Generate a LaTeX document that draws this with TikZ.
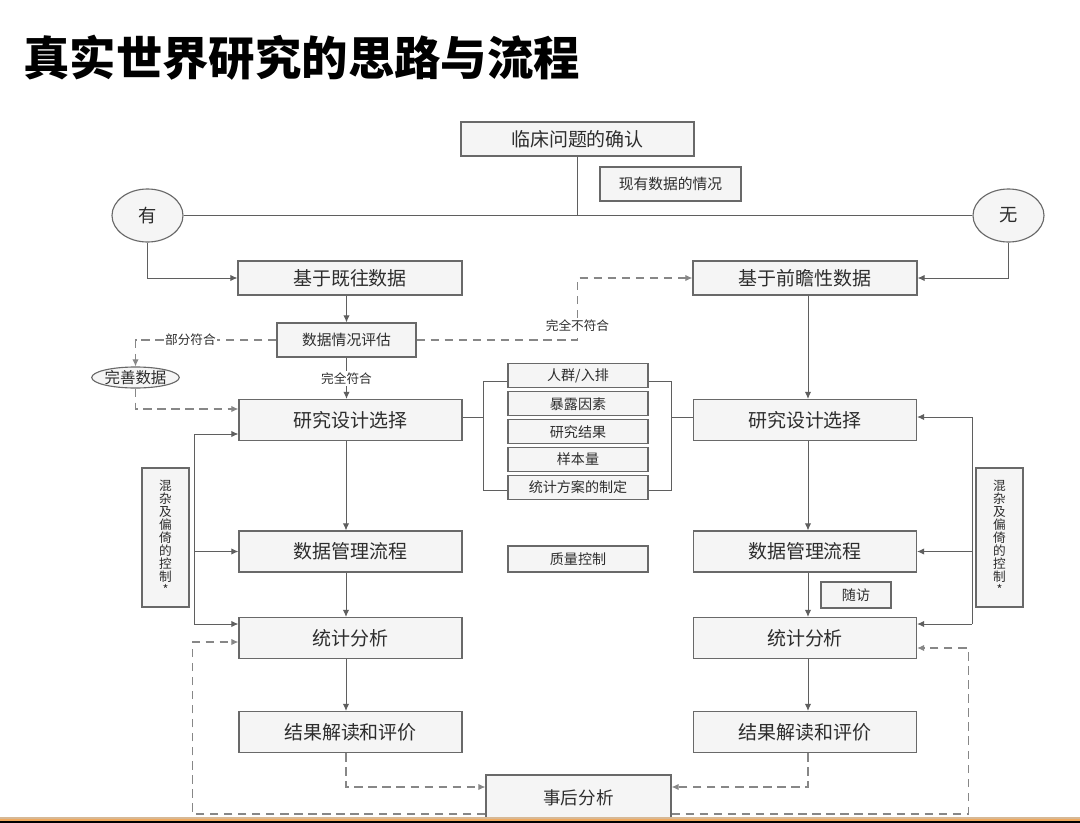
\documentclass[tikz,border=0pt]{standalone}
\usepackage{fontspec}
\setmainfont{Noto Sans CJK SC}
\usetikzlibrary{shapes.geometric,arrows.meta,calc}

\definecolor{boxline}{RGB}{105,105,105}
\definecolor{boxfill}{RGB}{245,245,245}
\definecolor{txt}{RGB}{45,45,45}
\definecolor{linec}{RGB}{95,95,95}
\definecolor{dashc}{RGB}{135,135,135}
\definecolor{stripa}{RGB}{215,185,150}
\definecolor{stripb}{RGB}{238,168,95}

\tikzset{
  box/.style={draw=boxline, fill=boxfill, line width=0.8pt, text=txt, inner sep=0pt,
    font=\fontsize{13.5}{15}\selectfont},
  bigbox/.style={box, minimum width=5.575cm, minimum height=1.025cm},
  smallbox/.style={box, font=\fontsize{10.5}{12}\selectfont},
  itembox/.style={box, minimum width=3.5cm, minimum height=0.6cm, font=\fontsize{10}{11}\selectfont},
  oval/.style={ellipse, draw=boxline, fill=boxfill, line width=0.8pt, text=txt, inner sep=0pt},
  ctrlbox/.style={box, minimum width=1.175cm, minimum height=3.475cm, align=center,
    font=\fontsize{9}{9.2}\selectfont},
  conn/.style={draw=linec, line width=0.7pt},
  arr/.style={-{Latex[length=5pt,width=4.5pt]}},
  dsh/.style={draw=dashc, line width=0.8pt, dash pattern=on 6pt off 4pt},
  lbl/.style={fill=white, text=txt, inner sep=1pt, font=\fontsize{9}{10}\selectfont},
}

\begin{document}
\begin{tikzpicture}[x=0.025cm, y=-0.025cm]
\useasboundingbox (0,0) rectangle (1080,823);
\fill[white] (0,0) rectangle (1080,823);

\node[anchor=west, inner sep=0pt, font=\fontsize{33}{38}\selectfont\bfseries] (title) at (23,58) {真实世界研究的思路与流程};

% top part
\node[box, minimum width=5.825cm, minimum height=0.85cm] (q) at (577.5,139) {临床问题的确认};
\node[smallbox, minimum width=3.525cm, minimum height=0.85cm] (cur) at (670.5,184) {现有数据的情况};
\node[oval, minimum width=1.775cm, minimum height=1.325cm, font=\fontsize{13}{14}\selectfont] (you) at (147.5,215.5) {有};
\node[oval, minimum width=1.775cm, minimum height=1.325cm, font=\fontsize{13}{14}\selectfont] (wu) at (1008.5,215.5) {无};

\node[box, minimum width=5.6cm, minimum height=0.85cm] (past) at (350,278) {基于既往数据};
\node[box, minimum width=5.6cm, minimum height=0.85cm] (pros) at (805,278) {基于前瞻性数据};
\node[smallbox, minimum width=3.475cm, minimum height=0.85cm] (eval) at (346.5,340) {数据情况评估};
\node[oval, minimum width=2.175cm, minimum height=0.525cm, font=\fontsize{11}{12}\selectfont] (perf) at (135.5,377.5) {完善数据};

% two columns
\node[bigbox] (designL) at (350.5,420) {研究设计选择};
\node[bigbox] (mgmtL) at (350.5,551.5) {数据管理流程};
\node[bigbox] (statL) at (350.5,638) {统计分析};
\node[bigbox] (resL) at (350.5,732) {结果解读和评价};

\node[bigbox] (designR) at (805,420) {研究设计选择};
\node[bigbox] (mgmtR) at (805,551.5) {数据管理流程};
\node[bigbox] (statR) at (805,638) {统计分析};
\node[bigbox] (resR) at (805,732) {结果解读和评价};

\node[ctrlbox] (ctrlL) at (165.5,537.5) {混\\杂\\及\\偏\\倚\\的\\控\\制\\*};
\node[ctrlbox] (ctrlR) at (999.5,537.5) {混\\杂\\及\\偏\\倚\\的\\控\\制\\*};

% middle list
\foreach \t [count=\i] in {人群/入排, 暴露因素, 研究结果, 样本量, 统计方案的制定}
  \node[itembox] (i\i) at (578,348+27.9*\i) {\t};
\node[itembox, minimum height=0.65cm] (qc) at (578,559) {质量控制};
\node[itembox, minimum width=1.75cm, minimum height=0.65cm] (fu) at (856,595) {随访};
\node[box, minimum width=4.625cm, minimum height=1.15cm, font=\fontsize{12.5}{14}\selectfont] (post) at (578.5,798) {事后分析};

\coordinate (cL) at (346,0);
\coordinate (cR) at (808,0);

% connectors
\draw[conn] (q.south) -- (q.south |- you.east);
\draw[conn] (you.east) -- (wu.west);
\draw[conn,arr] (you.south) |- (past.west);
\draw[conn,arr] (wu.south) |- (pros.east);
\draw[conn,arr] (eval.north |- past.south) -- (eval.north);
\draw[dsh,arr] (eval.west) -- node[lbl,pos=0.61]{部分符合} (perf.north |- eval.west) -- (perf.north);
\draw[dsh,arr] (perf.south) |- ($(designL.west)+(0,-11)$);
\draw[conn,arr] (eval.south) -- node[lbl]{完全符合} (eval.south |- designL.north);
\draw[dsh,arr] (eval.east) -- (eval.east -| q.south) -- node[lbl,pos=0.23]{完全不符合} (pros.west -| q.south) -- (pros.west);
\draw[conn,arr] (cR |- pros.south) -- (cR |- designR.north);

\draw[conn,arr] (cL |- designL.south) -- (cL |- mgmtL.north);
\draw[conn,arr] (cL |- mgmtL.south) -- (cL |- statL.north);
\draw[conn,arr] (cL |- statL.south) -- (cL |- resL.north);
\draw[conn,arr] (cR |- designR.south) -- (cR |- mgmtR.north);
\draw[conn,arr] (cR |- mgmtR.south) -- (cR |- statR.north);
\draw[conn,arr] (cR |- statR.south) -- (cR |- resR.north);

% bracket round the list
\coordinate (bl) at (484,417);
\coordinate (br) at (671,417);
\draw[conn] (bl -| designL.east) -- (bl);
\draw[conn] (br) -- (br -| designR.west);
\draw[conn] ($(i1.west)+(0,6)$) -| ($(i5.west)+(-24,3)$) -- ($(i5.west)+(0,3)$);
\draw[conn] ($(i1.east)+(0,6)$) -| ($(i5.east)+(23,3)$) -- ($(i5.east)+(0,3)$);

% confounding control
\coordinate (lt) at (194,434);
\coordinate (lb) at (194,624);
\draw[conn] (lt) -- (lb);
\draw[conn,arr] (lt) -- (lt -| designL.west);
\draw[conn,arr] (lt |- mgmtL.west) -- (mgmtL.west);
\draw[conn,arr] (lb) -- (lb -| statL.west);
\coordinate (rt) at (972,417);
\coordinate (rb) at (972,624);
\draw[conn] (rt) -- (rb);
\draw[conn,arr] (rt) -- (rt -| designR.east);
\draw[conn,arr] (rt |- mgmtR.east) -- (mgmtR.east);
\draw[conn,arr] (rb) -- (rb -| statR.east);

% post-hoc loop
\draw[dsh,arr] (cL |- resL.south) |- ($(post.west)+(0,-11)$);
\draw[dsh,arr] (cR |- resR.south) |- ($(post.east)+(0,-11)$);
\draw[dsh,arr] ($(post.west)+(0,16)$) -| ($(statL.west)+(-46,4)$) -- ($(statL.west)+(0,4)$);
\draw[dsh,arr] ($(post.east)+(0,16)$) -| ($(statR.east)+(51,10)$) -- ($(statR.east)+(0,10)$);

% footer strip
\fill[stripa] (0,816.5) rectangle (1080,818.5);
\fill[stripb] (0,818.5) rectangle (1080,821);
\fill[black] (0,821) rectangle (1080,823);
\end{tikzpicture}
\end{document}
